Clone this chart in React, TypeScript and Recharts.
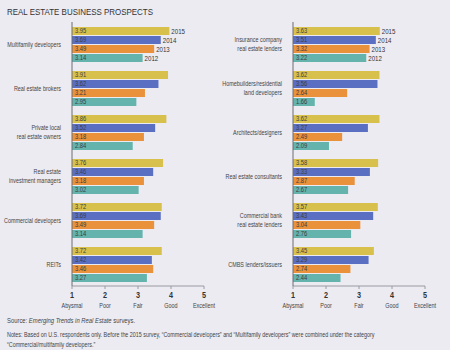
import React from "react";
import { BarChart, Bar, XAxis, YAxis, LabelList } from "recharts";

const leftCategories = [
  "Multifamily developers",
  "Real estate brokers",
  "Private local\nreal estate owners",
  "Real estate\ninvestment managers",
  "Commercial developers",
  "REITs",
];
const left2015 = [3.95, 3.91, 3.86, 3.76, 3.72, 3.72];
const left2014 = [3.69, 3.62, 3.52, 3.46, 3.69, 3.42];
const left2013 = [3.49, 3.21, 3.18, 3.18, 3.49, 3.46];
const left2012 = [3.14, 2.95, 2.84, 3.02, 3.14, 3.27];

const rightCategories = [
  "Insurance company\nreal estate lenders",
  "Homebuilders/residential\nland developers",
  "Architects/designers",
  "Real estate consultants",
  "Commercial bank\nreal estate lenders",
  "CMBS lenders/issuers",
];
const right2015 = [3.63, 3.62, 3.62, 3.58, 3.57, 3.45];
const right2014 = [3.51, 3.56, 3.27, 3.33, 3.43, 3.29];
const right2013 = [3.32, 2.64, 2.49, 2.87, 3.04, 2.74];
const right2012 = [3.22, 1.66, 2.09, 2.67, 2.76, 2.44];

const years = ["2015", "2014", "2013", "2012"];
const colors = ["#d8c04c", "#5a6fc2", "#e9913b", "#64b3ad"];
const scaleTicks = [1, 2, 3, 4, 5];
const scaleLabels = ["Abysmal", "Poor", "Fair", "Good", "Excellent"];

const FONT = "'Liberation Sans', Arial, sans-serif";
const BG = "#ecebf2";
const SQUEEZE = 0.68;

function buildRows(cats: string[], series: number[][]) {
  return cats.map((name, i) => ({
    name,
    y2015: series[0][i],
    y2014: series[1][i],
    y2013: series[2][i],
    y2012: series[3][i],
  }));
}

// condensed text: the reference uses a narrow face, so squeeze horizontally
const Narrow = ({ x, y, sx = SQUEEZE, children, ...rest }: any) => (
  <g transform={`translate(${x},${y}) scale(${sx},1)`}>
    <text x={0} y={0} fontFamily={FONT} {...rest}>
      {children}
    </text>
  </g>
);

const CategoryTick = ({ x, y, payload }: any) => {
  const lines = String(payload.value).split("\n");
  const lh = 8.5;
  const start = -((lines.length - 1) * lh) / 2 + 2.7;
  return (
    <g>
      {lines.map((l, i) => (
        <Narrow key={i} x={x - 3} y={y + start + i * lh} textAnchor="end" fontSize={8} fill="#444">
          {l}
        </Narrow>
      ))}
    </g>
  );
};

const ScaleTick = ({ x, y, payload }: any) => {
  const idx = scaleTicks.indexOf(payload.value);
  return (
    <g>
      <Narrow x={x} y={y + 7} sx={0.85} textAnchor="middle" fontSize={8.5} fontWeight="bold" fill="#333">
        {payload.value}
      </Narrow>
      <Narrow x={x} y={y + 16.5} textAnchor="middle" fontSize={8} fill="#444">
        {scaleLabels[idx]}
      </Narrow>
    </g>
  );
};

const valueLabel = (props: any) => {
  const { x, y, height, value } = props;
  return (
    <Narrow x={x + 3} y={y + height / 2 + 2.4} sx={0.85} fontSize={6.8} fill="#3b3b3b">
      {Number(value).toFixed(2)}
    </Narrow>
  );
};

const yearLabel = (year: string) => (props: any) => {
  const { x, y, width, height, index } = props;
  if (index !== 0) return null;
  return (
    <Narrow x={x + width + 2} y={y + height / 2 + 2.5} sx={0.85} fontSize={7.2} fill="#333">
      {year}
    </Narrow>
  );
};

function Panel({ data, yWidth, width }: { data: any[]; yWidth: number; width: number }) {
  return (
    <BarChart
      width={width}
      height={316}
      data={data}
      layout="vertical"
      margin={{ top: 22, right: width - yWidth - 132, bottom: 0, left: 0 }}
      barSize={8}
      barGap={1}
    >
      <XAxis
        type="number"
        domain={[1, 5]}
        ticks={scaleTicks}
        allowDataOverflow
        height={30}
        stroke="#9a9aa2"
        tickSize={3}
        tick={<ScaleTick />}
      />
      <YAxis
        type="category"
        dataKey="name"
        width={yWidth}
        stroke="#6d6d72"
        tickLine={false}
        tick={<CategoryTick />}
        interval={0}
      />
      {["y2015", "y2014", "y2013", "y2012"].map((k, i) => (
        <Bar key={k} dataKey={k} fill={colors[i]} isAnimationActive={false}>
          <LabelList dataKey={k} content={valueLabel} />
          <LabelList dataKey={k} content={yearLabel(years[i])} />
        </Bar>
      ))}
    </BarChart>
  );
}

export default function App() {
  const leftData = buildRows(leftCategories, [left2015, left2014, left2013, left2012]);
  const rightData = buildRows(rightCategories, [right2015, right2014, right2013, right2012]);
  return (
    <div
      style={{
        position: "absolute",
        left: 0,
        top: 0,
        width: 450,
        height: 350,
        background: BG,
        overflow: "hidden",
      }}
    >
      <svg width={450} height={350} style={{ position: "absolute", left: 0, top: 0 }}>
        <text x={7} y={15} fontSize={9} fill="#333" fontFamily={FONT} textLength={146} lengthAdjust="spacingAndGlyphs">
          REAL ESTATE BUSINESS PROSPECTS
        </text>
        <Narrow x={7} y={323} sx={0.84} fontSize={7} fill="#444">
          Source: <tspan fontStyle="italic">Emerging Trends in Real Estate</tspan> surveys.
        </Narrow>
        <Narrow x={7} y={337} sx={0.78} fontSize={6.9} fill="#444">
          Notes: Based on U.S. respondents only. Before the 2015 survey, “Commercial developers” and “Multifamily developers” were combined under the category
        </Narrow>
        <Narrow x={7} y={347} sx={0.78} fontSize={6.9} fill="#444">
          “Commercial/multifamily developers.”
        </Narrow>
      </svg>
      <div style={{ position: "absolute", left: 0, top: 0 }}>
        <Panel data={leftData} yWidth={72} width={225} />
      </div>
      <div style={{ position: "absolute", left: 213, top: 0 }}>
        <Panel data={rightData} yWidth={80} width={237} />
      </div>
    </div>
  );
}
